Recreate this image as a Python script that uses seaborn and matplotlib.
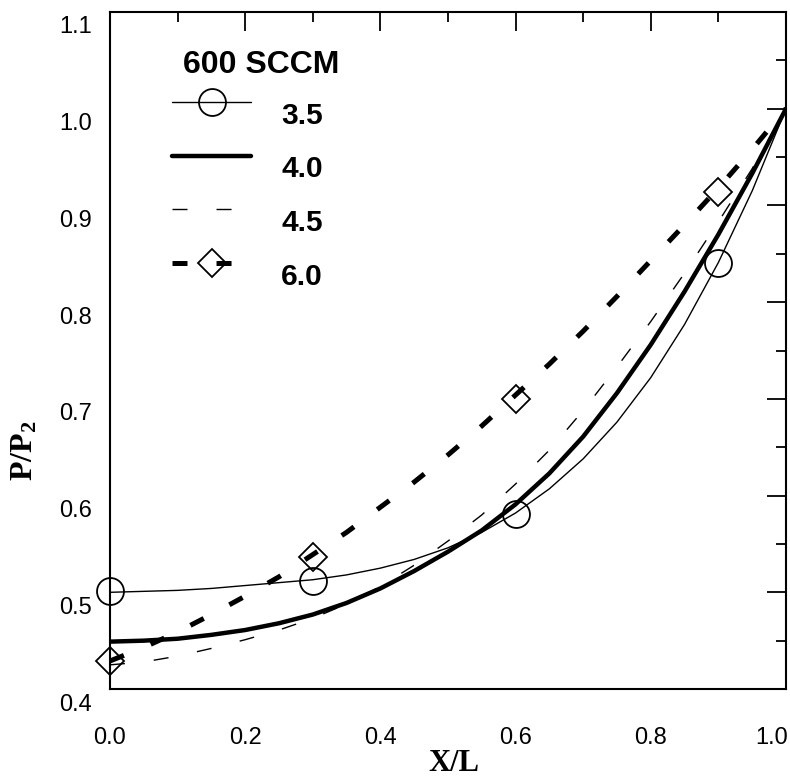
import matplotlib
matplotlib.use("Agg")
import matplotlib.pyplot as plt
import matplotlib.transforms as mtransforms
from matplotlib.lines import Line2D
from matplotlib.legend_handler import HandlerLine2D
import seaborn as sns
import pandas as pd

# ---------------- data ----------------
x_fit = [0.00, 0.05, 0.10, 0.15, 0.20, 0.25, 0.30, 0.35, 0.40, 0.45, 0.50,
         0.55, 0.60, 0.65, 0.70, 0.75, 0.80, 0.85, 0.90, 0.95, 1.00]
fit_35 = [0.500, 0.501, 0.502, 0.504, 0.507, 0.510, 0.513, 0.518, 0.525, 0.534, 0.546,
          0.562, 0.582, 0.607, 0.638, 0.676, 0.722, 0.777, 0.841, 0.915, 1.000]
fit_40 = [0.449, 0.450, 0.452, 0.456, 0.461, 0.468, 0.477, 0.489, 0.504, 0.522, 0.542,
          0.564, 0.591, 0.623, 0.661, 0.706, 0.756, 0.811, 0.870, 0.933, 1.000]
fit_45 = [0.425, 0.428, 0.434, 0.442, 0.451, 0.461, 0.473, 0.488, 0.506, 0.528, 0.553,
          0.580, 0.612, 0.647, 0.688, 0.733, 0.780, 0.830, 0.883, 0.938, 1.000]
fit_60 = [0.429, 0.443, 0.459, 0.477, 0.496, 0.516, 0.539, 0.562, 0.588, 0.614, 0.642,
          0.672, 0.704, 0.736, 0.770, 0.806, 0.843, 0.880, 0.918, 0.958, 1.000]

x_pts = [0.0, 0.3, 0.6, 0.9]
pts_35 = [0.501, 0.512, 0.581, 0.840]
pts_60 = [0.429, 0.536, 0.700, 0.914]

legend_title = "600 SCCM"
series_labels = ["3.5", "4.0", "4.5", "6.0"]
x_ticks = [0.0, 0.2, 0.4, 0.6, 0.8, 1.0]
x_ticklabels = ["0.0", "0.2", "0.4", "0.6", "0.8", "1.0"]
y_ticks = [0.4, 0.5, 0.6, 0.7, 0.8, 0.9, 1.0, 1.1]
y_ticklabels = ["0.4", "0.5", "0.6", "0.7", "0.8", "0.9", "1.0", "1.1"]
x_label = "X/L"
y_label = "P/P$_2$"

# ---------------- style ----------------
sns.set_style("white")
plt.rcParams["font.family"] = ["Liberation Sans", "DejaVu Sans"]
plt.rcParams["mathtext.default"] = "regular"
plt.rcParams["lines.scale_dashes"] = False
plt.rcParams["text.color"] = "k"
plt.rcParams["axes.labelcolor"] = "k"

DASH = (0, (10.8, 20.9))

fig = plt.figure(figsize=(7.9, 7.79), dpi=100)
ax = fig.add_axes([0.1392, 0.1155, 0.8557, 0.8691])

fits = pd.DataFrame({"x": x_fit, "f35": fit_35, "f40": fit_40, "f45": fit_45, "f60": fit_60})
pts = pd.DataFrame({"x": x_pts, "p35": pts_35, "p60": pts_60})

sns.lineplot(data=fits, x="x", y="f35", ax=ax, color="k", lw=1.0, sort=True)
sns.lineplot(data=fits, x="x", y="f40", ax=ax, color="k", lw=3.2, sort=True)
sns.lineplot(data=fits, x="x", y="f45", ax=ax, color="k", lw=1.0, linestyle=DASH, sort=True)
sns.lineplot(data=fits, x="x", y="f60", ax=ax, color="k", lw=3.6, linestyle=DASH, sort=True)

sns.lineplot(data=pts, x="x", y="p35", ax=ax, color="k", linestyle="", marker="o",
             markersize=19.4, markerfacecolor="none", markeredgecolor="k",
             markeredgewidth=1.3, clip_on=False)
sns.lineplot(data=pts, x="x", y="p60", ax=ax, color="k", linestyle="", marker="D",
             markersize=13.75, markerfacecolor="none", markeredgecolor="k",
             markeredgewidth=1.3, clip_on=False)

ax.set_xlim(0, 1.0)
ax.set_ylim(0.4, 1.1)

ax.set_xticks(x_ticks)
ax.set_xticklabels(x_ticklabels)
ax.set_yticks(y_ticks)
ax.set_yticklabels(y_ticklabels)
ax.set_xticks([0.1, 0.3, 0.5, 0.7, 0.9], minor=True)
ax.set_yticks([0.45, 0.55, 0.65, 0.75, 0.85, 0.95, 1.05], minor=True)

for s in ax.spines.values():
    s.set_linewidth(1.5)
    s.set_color("k")

ax.tick_params(which="both", direction="in", top=True, right=True, color="k", width=1.3)
ax.tick_params(which="major", length=14)
ax.tick_params(which="minor", length=7)
ax.tick_params(axis="x", which="major", pad=27, labelsize=17, labelcolor="k")
ax.tick_params(axis="y", which="major", pad=13, labelsize=17, labelcolor="k")

ax.set_xlabel(x_label, fontfamily="Liberation Serif", fontweight="bold", fontsize=22,
              va="center", color="k")
ax.set_ylabel(y_label, fontfamily="Liberation Serif", fontweight="bold", fontsize=23,
              va="center", color="k")
ax.xaxis.set_label_coords(0.509, -0.110)
ax.yaxis.set_label_coords(-0.126, 0.352)

# shift y tick labels slightly downward (as in the reference)
offset = mtransforms.ScaledTranslation(0, -13 / 100, fig.dpi_scale_trans)
for lab in ax.get_yticklabels():
    lab.set_transform(lab.get_transform() + offset)
# last x tick label kept inside the figure
xlabs = ax.get_xticklabels()
xlabs[-1].set_horizontalalignment("right")
xlabs[-1].set_transform(xlabs[-1].get_transform()
                        + mtransforms.ScaledTranslation(2 / 100, 0, fig.dpi_scale_trans))

# ---------------- legend ----------------
class RaisedHandler(HandlerLine2D):
    def create_artists(self, legend, orig_handle, xdescent, ydescent,
                       width, height, fontsize, trans):
        arts = super().create_artists(legend, orig_handle, xdescent, ydescent,
                                      width, height, fontsize, trans)
        for a in arts:
            a.set_ydata([y + 8.0 for y in a.get_ydata()])
        return arts

h35 = Line2D([], [], color="k", lw=1.0, marker="o", ms=19.4, mfc="none", mec="k", mew=1.3)
h40 = Line2D([], [], color="k", lw=3.2)
h45 = Line2D([], [], color="k", lw=1.0, ls=DASH)
h60 = Line2D([], [], color="k", lw=3.6, ls=DASH, marker="D", ms=13.75, mfc="none", mec="k", mew=1.3)
handles = [h35, h40, h45, h60]

leg = ax.legend(handles, series_labels, title=legend_title, loc="upper left",
                bbox_to_anchor=(0.092, 0.950), frameon=False, borderpad=0, borderaxespad=0,
                handlelength=2.65, handletextpad=1.0, labelspacing=0.86, numpoints=1,
                prop={"family": "Liberation Sans", "weight": "bold", "size": 21.5},
                title_fontproperties={"family": "Liberation Sans", "weight": "bold", "size": 23},
                handler_map={Line2D: RaisedHandler(numpoints=1)})
leg._legend_box.align = "left"
ttl = leg.get_title()
ttl.set_color("k")
ttl.set_transform(ttl.get_transform()
                  + mtransforms.ScaledTranslation(11 / 100, -4 / 100, fig.dpi_scale_trans))
for t in leg.get_texts():
    t.set_color("k")

fig.savefig("out.png", dpi=100)
